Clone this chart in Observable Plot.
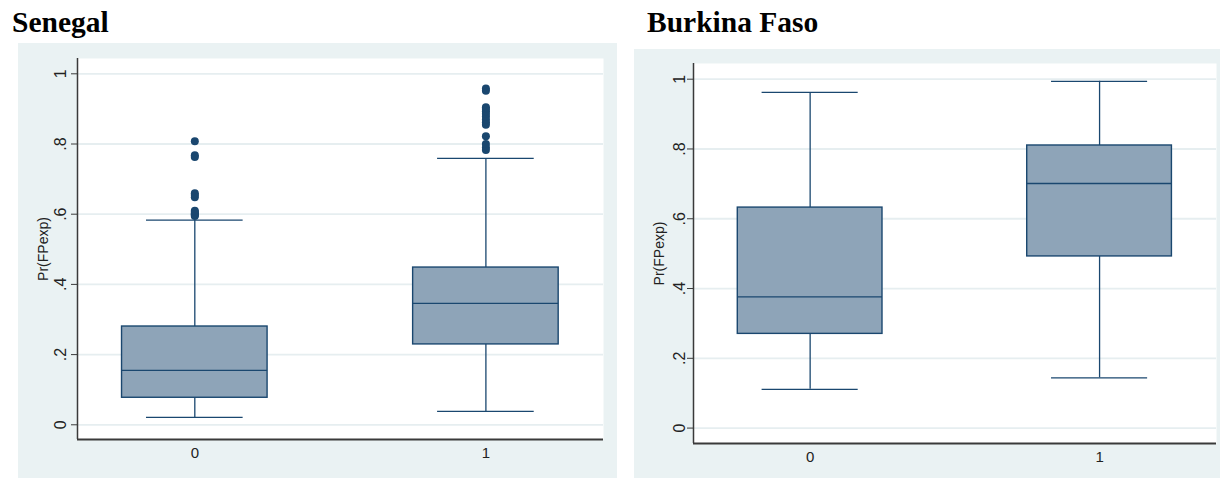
<!DOCTYPE html>
<html>
<head>
<meta charset="utf-8">
<script src="https://cdn.jsdelivr.net/npm/d3@7"></script>
<script src="https://cdn.jsdelivr.net/npm/@observablehq/plot@0.6"></script>
<style>
  body { margin: 0; background: #ffffff; }
  #wrap { position: relative; width: 1220px; height: 478px; background: #ffffff; overflow: hidden; }
  .title { position: absolute; font-family: "Liberation Serif", "Times New Roman", serif; font-weight: bold; font-size: 29.5px; line-height: 1; color: #000; }
  .panel { position: absolute; background: #eaf2f3; }
  .panel svg { display: block; }
</style>
</head>
<body>
<div id="wrap">
  <div class="title" style="left:12px;top:8px;">Senegal</div>
  <div class="title" style="left:647px;top:8px;">Burkina Faso</div>
  <div class="panel" id="p1" style="left:18px;top:43px;width:599px;height:435px;"></div>
  <div class="panel" id="p2" style="left:634px;top:49px;width:586px;height:429px;"></div>
</div>
<script>
// ---- data ----
const groups = ["0", "1"];
const yTicks = [0, 0.2, 0.4, 0.6, 0.8, 1];
const yTickLabels = ["0", ".2", ".4", ".6", ".8", "1"];
const yTitle = "Pr(FPexp)";

// Senegal box statistics (per group)
const senLow = [0.021, 0.038];
const senQ1 = [0.077, 0.229];
const senMedian = [0.155, 0.346];
const senQ3 = [0.280, 0.448];
const senHigh = [0.583, 0.759];
const senOutliers0 = [0.595, 0.598, 0.600, 0.603, 0.606, 0.610, 0.648, 0.655, 0.660, 0.763, 0.768, 0.808];
const senOutliers1 = [0.783, 0.790, 0.800, 0.822, 0.855, 0.862, 0.870, 0.878, 0.886, 0.893, 0.900, 0.905, 0.952, 0.958];

// Burkina Faso box statistics (per group)
const bfLow = [0.111, 0.144];
const bfQ1 = [0.270, 0.492];
const bfMedian = [0.376, 0.701];
const bfQ3 = [0.632, 0.810];
const bfHigh = [0.962, 0.994];
const bfOutliers0 = [];
const bfOutliers1 = [];

// ---- styles ----
const NAVY = "#1a476f";
const BOXFILL = "#8ea4b8";
const AXIS = "#3a3a3a";
const GRID = "#e6eef0";
const FONT = "'Liberation Sans', Arial, Helvetica, sans-serif";

function drawPanel(el, cfg) {
  const rows = groups.map((g, i) => ({
    g: i, lo: cfg.low[i], q1: cfg.q1[i], med: cfg.median[i], q3: cfg.q3[i], hi: cfg.high[i]
  }));
  const outs = [];
  cfg.outliers.forEach((arr, i) => arr.forEach(v => outs.push({g: i, v})));
  const bh = 0.25, ch = 0.166;
  const xDomain = [-0.403, 1.404];
  const plot = Plot.plot({
    width: cfg.width, height: cfg.height,
    marginLeft: cfg.ml, marginRight: cfg.mr, marginTop: cfg.mt, marginBottom: cfg.mb,
    style: {background: "transparent", fontFamily: FONT, color: "#222"},
    x: {type: "linear", domain: xDomain, axis: null},
    y: {domain: cfg.yDomain, axis: null},
    marks: [
      Plot.frame({fill: "#ffffff", stroke: null}),
      Plot.ruleY(yTicks, {stroke: GRID, strokeWidth: 1.8}),
      // whiskers
      Plot.ruleX(rows, {x: "g", y1: "q3", y2: "hi", stroke: NAVY, strokeWidth: 1.3}),
      Plot.ruleX(rows, {x: "g", y1: "lo", y2: "q1", stroke: NAVY, strokeWidth: 1.3}),
      Plot.ruleY(rows, {y: "hi", x1: d => d.g - ch, x2: d => d.g + ch, stroke: NAVY, strokeWidth: 1.3}),
      Plot.ruleY(rows, {y: "lo", x1: d => d.g - ch, x2: d => d.g + ch, stroke: NAVY, strokeWidth: 1.3}),
      // boxes
      Plot.rect(rows, {x1: d => d.g - bh, x2: d => d.g + bh, y1: "q1", y2: "q3", fill: BOXFILL, stroke: NAVY, strokeWidth: 1.4}),
      Plot.ruleY(rows, {y: "med", x1: d => d.g - bh, x2: d => d.g + bh, stroke: NAVY, strokeWidth: 1.4}),
      // outliers
      Plot.dot(outs, {x: "g", y: "v", r: 4, fill: NAVY, stroke: null}),
      // axes lines
      Plot.ruleX([xDomain[0]], {stroke: AXIS, strokeWidth: 1.5}),
      Plot.ruleY([cfg.yDomain[0]], {stroke: AXIS, strokeWidth: 2.2}),
      // y ticks
      Plot.axisY({ticks: yTicks, tickSize: 6, tickFormat: () => "", label: null, stroke: AXIS}),
      Plot.text(yTicks, {y: d => d, text: (d, i) => yTickLabels[i], frameAnchor: "left", dx: -cfg.tickDx,
        rotate: -90, textAnchor: "middle", lineAnchor: "middle", fontSize: 16, fill: "#222"}),
      Plot.text([yTitle], {text: d => d, frameAnchor: "left", dx: -cfg.titleDx, rotate: -90,
        textAnchor: "middle", lineAnchor: "middle", fontSize: 14, fill: "#222"}),
      // x labels
      Plot.text(groups, {x: (d, i) => i, text: d => d, frameAnchor: "bottom", dy: cfg.xDy,
        textAnchor: "middle", lineAnchor: "middle", fontSize: 15, fill: "#222"})
    ]
  });
  el.appendChild(plot);
}

drawPanel(document.getElementById("p1"), {
  width: 599, height: 435, ml: 59, mr: 14, mt: 15, mb: 39,
  yDomain: [-0.0419, 1.0436], tickDx: 17, titleDx: 34, xDy: 14,
  low: senLow, q1: senQ1, median: senMedian, q3: senQ3, high: senHigh,
  outliers: [senOutliers0, senOutliers1]
});
drawPanel(document.getElementById("p2"), {
  width: 586, height: 429, ml: 59, mr: 4, mt: 14, mb: 35,
  yDomain: [-0.0442, 1.045], tickDx: 14, titleDx: 34, xDy: 13.5,
  low: bfLow, q1: bfQ1, median: bfMedian, q3: bfQ3, high: bfHigh,
  outliers: [bfOutliers0, bfOutliers1]
});
</script>
</body>
</html>
